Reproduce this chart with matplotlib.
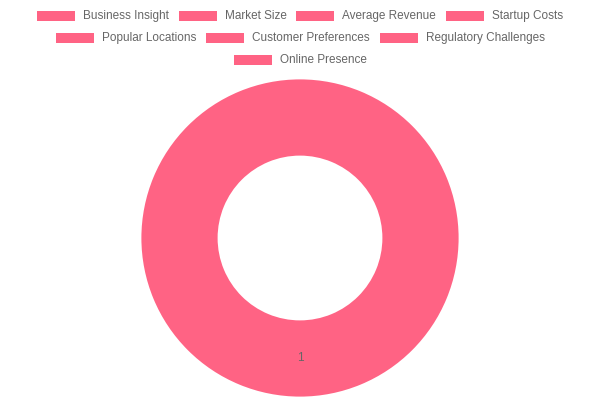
import matplotlib
matplotlib.use("Agg")
import matplotlib.pyplot as plt
from matplotlib.patches import Rectangle

labels = ["Business Insight", "Market Size", "Average Revenue", "Startup Costs",
          "Popular Locations", "Customer Preferences", "Regulatory Challenges",
          "Online Presence"]
values = [1]
rows = [labels[0:4], labels[4:7], labels[7:8]]
pink = "#FF6384"

plt.rcParams["font.family"] = ["Liberation Sans", "DejaVu Sans"]

fig = plt.figure(figsize=(6, 4), dpi=100)
ax = fig.add_axes([0, 0, 1, 1])

# doughnut
ax.pie(values, center=(300, 238), radius=160, startangle=90,
       counterclock=False, colors=[pink],
       wedgeprops=dict(width=79, edgecolor="white", linewidth=2),
       frame=True)
ax.set_xlim(0, 600)
ax.set_ylim(400, 0)
ax.set_aspect("equal")
ax.axis("off")
ax.text(300, 358, str(values[0]), ha="center", va="center",
        fontsize=8.5, color="#666666")

# legend, centered rows like chart.js
fig.canvas.draw()
r = fig.canvas.get_renderer()
fs = 8.5
box_w, box_h, gap, pad = 38, 10, 8, 10
row_y = [16, 38, 60]
for names, y in zip(rows, row_y):
    widths = []
    for n in names:
        t = ax.text(0, 0, n, fontsize=fs)
        widths.append(t.get_window_extent(r).width)
        t.remove()
    total = sum(box_w + gap + w for w in widths) + pad * (len(names) - 1)
    x = 300 - total / 2
    for n, w in zip(names, widths):
        ax.add_patch(Rectangle((x, y - box_h / 2), box_w, box_h,
                               facecolor=pink, edgecolor="none"))
        ax.text(x + box_w + gap, y, n, fontsize=fs, color="#666666",
                va="center", ha="left")
        x += box_w + gap + w + pad

fig.savefig("out.png", dpi=100)
